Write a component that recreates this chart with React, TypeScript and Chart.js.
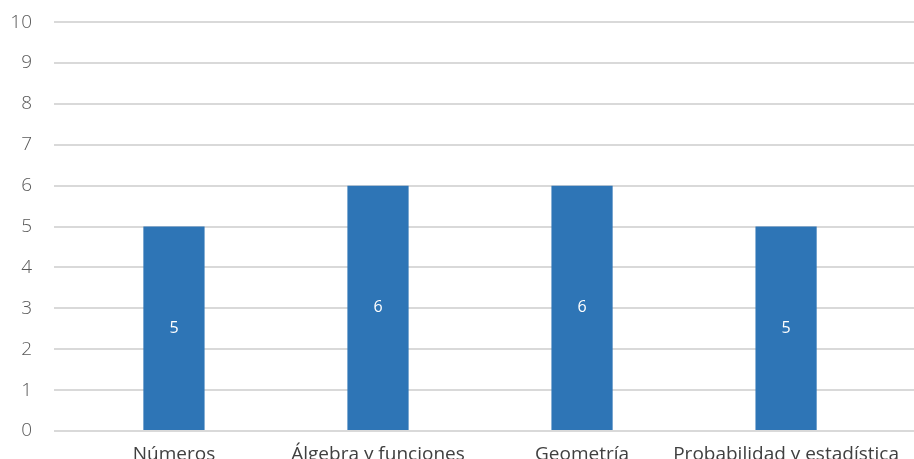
import React, { useEffect, useRef } from "react";
import { Chart, registerables } from "chart.js";

Chart.register(...registerables);

const categories = ["Números", "Álgebra y funciones", "Geometría", "Probabilidad y estadística"];
const values = [5, 6, 6, 5];
const yTicks = [0, 1, 2, 3, 4, 5, 6, 7, 8, 9, 10];

const barLabels = {
  id: "barLabels",
  afterDatasetsDraw(chart: any) {
    const ctx = chart.ctx;
    const meta = chart.getDatasetMeta(0);
    ctx.save();
    ctx.fillStyle = "#ffffff";
    ctx.font = "16px 'Open Sans', sans-serif";
    ctx.textAlign = "center";
    ctx.textBaseline = "middle";
    meta.data.forEach((el: any, i: number) => {
      const cy = (el.y + el.base) / 2;
      ctx.fillText(String(values[i]), el.x, cy);
    });
    ctx.restore();
  },
};

export default function App() {
  const ref = useRef<HTMLCanvasElement>(null);
  useEffect(() => {
    const chart = new Chart(ref.current!, {
      type: "bar",
      data: {
        datasets: [
          {
            data: values.map((v, i) => ({ x: i, y: v })),
            backgroundColor: "#2E75B6",
            barPercentage: 0.3,
            categoryPercentage: 1,
          },
        ],
      },
      options: {
        animation: false,
        responsive: false,
        layout: { padding: { top: 22, left: 0, right: 0, bottom: 0 } },
        plugins: { legend: { display: false }, tooltip: { enabled: false } },
        scales: {
          x: {
            type: "linear",
            min: -0.588,
            max: 3.627,
            offset: false,
            grid: { display: false },
            border: { display: false },
            afterBuildTicks: (axis: any) => {
              axis.ticks = categories.map((_, i) => ({ value: i }));
            },
            afterFit: (axis: any) => {
              axis.height = 28;
            },
            ticks: {
              autoSkip: false,
              maxRotation: 0,
              padding: 4,
              color: "#404040",
              font: { family: "'Open Sans', sans-serif", size: 19 },
              callback: (v: any) => categories[v as number] ?? "",
            },
          },
          y: {
            min: 0,
            max: 10,
            afterBuildTicks: (axis: any) => {
              axis.ticks = yTicks.map((v) => ({ value: v }));
            },
            afterFit: (axis: any) => {
              axis.width = 54;
            },
            grid: { color: "#d9d9d9", lineWidth: 2, drawTicks: false },
            border: { display: false },
            ticks: {
              padding: 22,
              color: "#595959",
              font: { family: "'Open Sans', sans-serif", size: 19, weight: "300", lineHeight: 0.01 },
            },
          },
        },
      },
      plugins: [barLabels],
    } as any);
    return () => chart.destroy();
  }, []);
  return (
    <div style={{ position: "absolute", left: 0, top: 0, width: 914, height: 459, background: "#fff" }}>
      <canvas ref={ref} width={914} height={459} />
    </div>
  );
}
